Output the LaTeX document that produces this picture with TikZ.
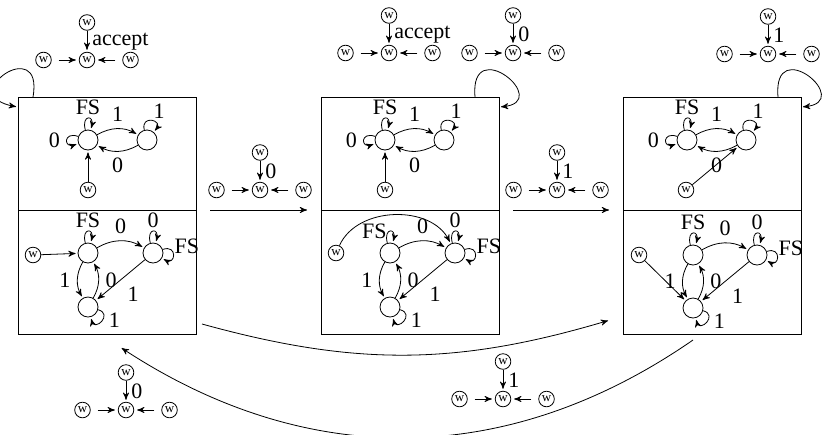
\documentclass[tikz,border=0pt]{standalone}
\usepackage{fontspec}
\setmainfont{Liberation Serif}
\usetikzlibrary{arrows,positioning}

\begin{document}
\begin{tikzpicture}[->,>=stealth',shorten >=1pt,auto,x=0.5pt,y=0.5pt,
    node distance=21.75pt,font=\fontsize{11}{13}\selectfont,
    st/.style={circle,draw,minimum size=10pt,inner sep=0pt},
    wn/.style={circle,draw,minimum size=7.8pt,inner sep=0pt,font=\fontsize{6.5}{6.5}\selectfont},
    part/.style={draw,minimum width=89pt,inner sep=0pt,outer sep=0pt},
    hs/.style={shorten <=3.5pt,shorten >=1.5pt},
    every loop/.style={min distance=8pt,looseness=1,shorten >=1pt}]
  \useasboundingbox (0,0) rectangle (822,-434);

  % the three boxes, upper and lower half
  \node[part,minimum height=56.5pt] (up1) at (107,-153.5) {};
  \node[part,minimum height=62pt]   (lo1) at (107,-272) {};
  \node[part,minimum height=56.5pt] (up2) at (410,-153.5) {};
  \node[part,minimum height=62pt]   (lo2) at (410,-272) {};
  \node[part,minimum height=56.5pt] (up3) at (712,-153.5) {};
  \node[part,minimum height=62pt]   (lo3) at (712,-272) {};

  % small w-graphs
  \foreach \g/\x/\y/\lab in {g1/87/60/accept, g2/389/53/accept, g3/513/53/0,
      g4/768/54/1, g5/260/190/0, g6/557/190/1, g7/126/410/0, g8/503/399/1} {
    \node[wn] (\g-c) at (\x,-\y) {w};
    \node[wn,left of=\g-c] (\g-l) {w};
    \node[wn,right of=\g-c] (\g-r) {w};
    \node[wn,node distance=18.75pt,above of=\g-c] (\g-t) {w};
    \path (\g-t) edge node[inner sep=2.5pt] {\lab} (\g-c)
          (\g-l) edge[hs] (\g-c)
          (\g-r) edge[hs] (\g-c);
  }

  % box 1
  \node[st] (t1a) at (88,-140) {};
  \node[st,node distance=29.5pt,right of=t1a] (t1b) {};
  \node[wn] (t1w) at (88,-190) {w};
\path (t1a) edge[loop above] node[inner sep=1.5pt] {FS} ()
            edge[out=160,in=200,loop,left] node {0} ()
            edge[bend left] node {1} (t1b)
      (t1b) edge[bend left] node {0} (t1a)
            edge[out=105,in=50,loop] node[above right,inner sep=1pt] {1} ()
      (t1w) edge (t1a);

  \node[st] (b1a) at (88,-253) {};
  \node[st,node distance=32.5pt,right of=b1a] (b1b) {};
  \node[st,node distance=27pt,below of=b1a] (b1c) {};
  \node[wn] (b1w) at (33,-255) {w};
\path (b1a) edge[loop above] node[inner sep=1.5pt] {FS} ()
            edge[bend left] node {0} (b1b)
            edge[bend right] node[swap] {1} (b1c)
      (b1b) edge[loop above] node[inner sep=1.5pt] {0} ()
            edge[out=20,in=-30,loop] node[above right,inner sep=0.5pt] {FS} ()
            edge node {1} (b1c)
      (b1c) edge[bend right] node[swap] {0} (b1a)
            edge[out=-15,in=-75,loop] node[right] {1} ()
      (b1w) edge (b1a);

  % box 2
  \node[st] (t2a) at (385,-140) {};
  \node[st,node distance=29.5pt,right of=t2a] (t2b) {};
  \node[wn] (t2w) at (385,-190) {w};
\path (t2a) edge[loop above] node[inner sep=1.5pt] {FS} ()
            edge[out=160,in=200,loop,left] node {0} ()
            edge[bend left] node {1} (t2b)
      (t2b) edge[bend left] node {0} (t2a)
            edge[out=105,in=50,loop] node[above right,inner sep=1pt] {1} ()
      (t2w) edge (t2a);

  \node[st] (b2a) at (390,-253) {};
  \node[st,node distance=32.5pt,right of=b2a] (b2b) {};
  \node[st,node distance=27pt,below of=b2a] (b2c) {};
  \node[wn] (b2w) at (336,-253) {w};
\path (b2a) edge[loop above] node[left,inner sep=1.5pt] {FS} ()
            edge[bend left] node {0} (b2b)
            edge[bend right] node[swap] {1} (b2c)
      (b2b) edge[loop above] node[inner sep=1.5pt] {0} ()
            edge[out=20,in=-30,loop] node[above right,inner sep=0.5pt] {FS} ()
            edge node {1} (b2c)
      (b2c) edge[bend right] node[swap] {0} (b2a)
            edge[out=-15,in=-75,loop] node[right] {1} ()
      (b2w) edge[bend left=65] (b2b);

  % box 3
  \node[st] (t3a) at (687,-140) {};
  \node[st,node distance=29.5pt,right of=t3a] (t3b) {};
  \node[wn] (t3w) at (686,-190) {w};
\path (t3a) edge[loop above] node[inner sep=1.5pt] {FS} ()
            edge[out=160,in=200,loop,left] node {0} ()
            edge[bend left] node {1} (t3b)
      (t3b) edge[bend left] node {0} (t3a)
            edge[out=105,in=50,loop] node[above right,inner sep=1pt] {1} ()
      (t3w) edge (t3b);

  \node[st] (b3a) at (693,-255) {};
  \node[st,node distance=32pt,right of=b3a] (b3b) {};
  \node[st,node distance=26.5pt,below of=b3a] (b3c) {};
  \node[wn] (b3w) at (639,-255) {w};
\path (b3a) edge[loop above] node[inner sep=1.5pt] {FS} ()
            edge[bend left] node {0} (b3b)
            edge[bend right] node[swap] {1} (b3c)
      (b3b) edge[loop above] node[inner sep=1.5pt] {0} ()
            edge[out=20,in=-30,loop] node[above right,inner sep=0.5pt] {FS} ()
            edge node {1} (b3c)
      (b3c) edge[bend right] node[swap] {0} (b3a)
            edge[out=-15,in=-75,loop] node[right] {1} ()
      (b3w) edge (b3c);

  % loops on the boxes and moves between them
  \draw ([xshift=7.5pt]up1.north west) .. controls +(80:65) and +(170:65) .. ([yshift=-5pt]up1.north west);
  \draw ([xshift=-12pt]up2.north east) .. controls +(95:65) and +(5:55) .. ([yshift=-5pt]up2.north east);
  \draw ([xshift=-11.5pt]up3.north east) .. controls +(95:65) and +(5:55) .. ([yshift=-5pt]up3.north east);
  \draw[shorten <=7pt,shorten >=7pt] (up1.south east) -- (up2.south west);
  \draw[shorten <=7pt,shorten >=7pt] (up2.south east) -- (up3.south west);
  \draw ([shift={(6,10)}]lo1.south east) to[bend right=16] ([shift={(-13,14)}]lo3.south west);
  \draw ([shift={(-19,-6)}]lo3.south) to[bend left=34] ([shift={(13,-13)}]lo1.south);
\end{tikzpicture}
\end{document}
